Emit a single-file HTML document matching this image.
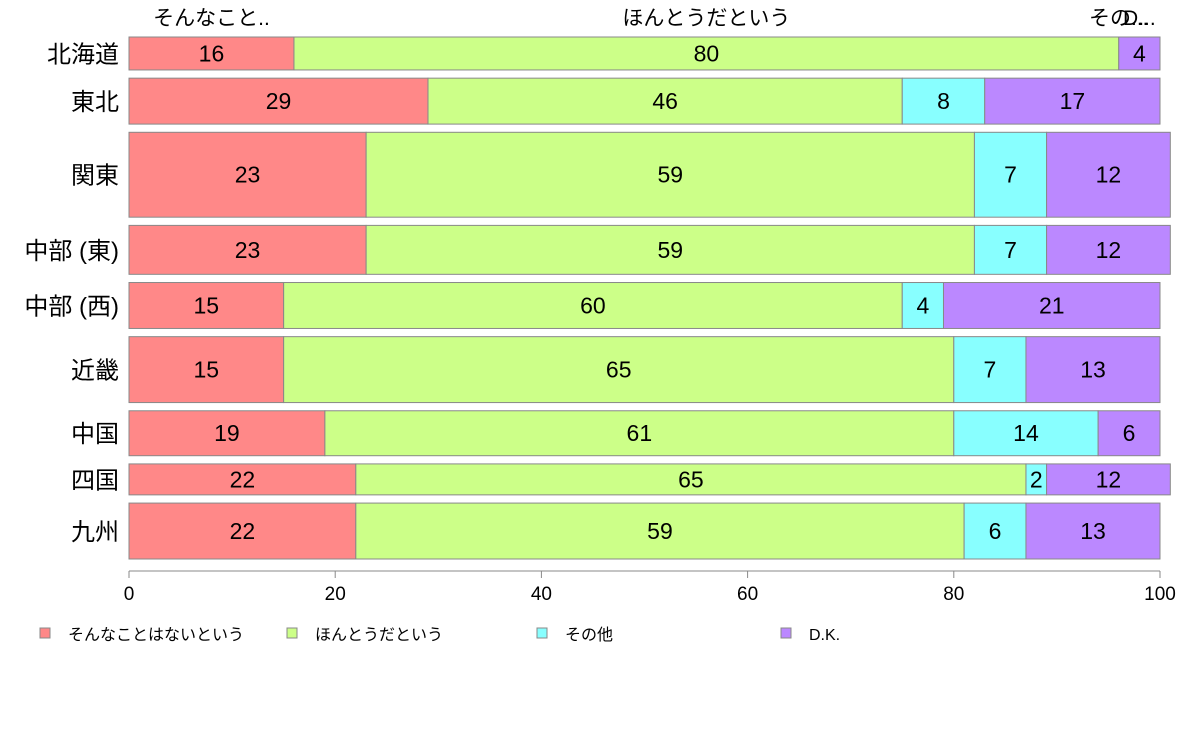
<!DOCTYPE html>
<html><head><meta charset="utf-8"><style>
body{margin:0;background:#fff;width:1188px;height:736px;overflow:hidden;font-family:"Liberation Sans","Noto Sans CJK JP",sans-serif}
</style></head><body>
<svg id="c" width="1188" height="736" font-family="Liberation Sans, Noto Sans CJK JP, sans-serif"></svg>
<script>
const regions=["北海道","東北","関東","中部 (東)","中部 (西)","近畿","中国","四国","九州"];
const seriesNames=["そんなことはないという","ほんとうだという","その他","D.K."];
const topLabels=["そんなこと..","ほんとうだという","その...","D..."];
const agree=[16,29,23,23,15,15,19,22,22];
const trueVals=[80,46,59,59,60,65,61,65,59];
const other=[0,8,7,7,4,7,14,2,6];
const dk=[4,17,12,12,21,13,6,12,13];
const rowWeights=[33,46,85,49,46,66,45,31,56];
const xTicks=[0,20,40,60,80,100];
const colors=["#ff8888","#ccff88","#88ffff","#bb88ff"];
const NS="http://www.w3.org/2000/svg",svg=document.getElementById('c');
const x0=129,x1=1160,yTop=37,yBot=559,gap=8.2;
const X=v=>x0+(x1-x0)*v/100;
const totalW=rowWeights.reduce((a,b)=>a+b,0);
const hUnit=(yBot-yTop-gap*(regions.length-1))/totalW;
function el(t,a,txt){const e=document.createElementNS(NS,t);for(const k in a)e.setAttribute(k,a[k]);if(txt!==undefined)e.textContent=txt;svg.appendChild(e);return e;}
const series=[agree,trueVals,other,dk];
let y=yTop;
regions.forEach((r,i)=>{
  const h=rowWeights[i]*hUnit;
  let cum=0;
  series.forEach((s,j)=>{
    const v=s[i];const a=X(cum),b=X(cum+v);
    if(v>0){
      const rc=el('rect',{x:a,y:y,width:b-a,height:h,fill:colors[j],stroke:'#888','stroke-width':1});
      
      
      const t=el('text',{x:(a+b)/2,y:y+h/2+8,'text-anchor':'middle','font-size':23,fill:'#000'},String(v));
      
      
    }
    if(i===0){
      const t=el('text',{x:(a+b)/2,y:25,'text-anchor':'middle','font-size':21,fill:'#000'},topLabels[j]);
      
      
    }
    cum+=v;
  });
  const l=el('text',{x:119,y:y+h/2+9,'text-anchor':'end','font-size':24,fill:'#000'},r);
  
  
  y+=h+gap;
});
const ax=el('line',{x1:x0,x2:x1,y1:571,y2:571,stroke:'#888'});


xTicks.forEach(v=>{
  const tk=el('line',{x1:X(v),x2:X(v),y1:571,y2:578,stroke:'#888'});
  
  
  const t=el('text',{x:X(v),y:600,'text-anchor':'middle','font-size':19,fill:'#000'},String(v));
  
  
});
const legX=[40,287,537,781];
seriesNames.forEach((n,j)=>{
  const r=el('rect',{x:legX[j],y:628,width:10,height:10,fill:colors[j],stroke:'#888'});
  
  
  const t=el('text',{x:legX[j]+28,y:640,'font-size':16,fill:'#000'},n);
  
  
});
</script>
</body></html>
